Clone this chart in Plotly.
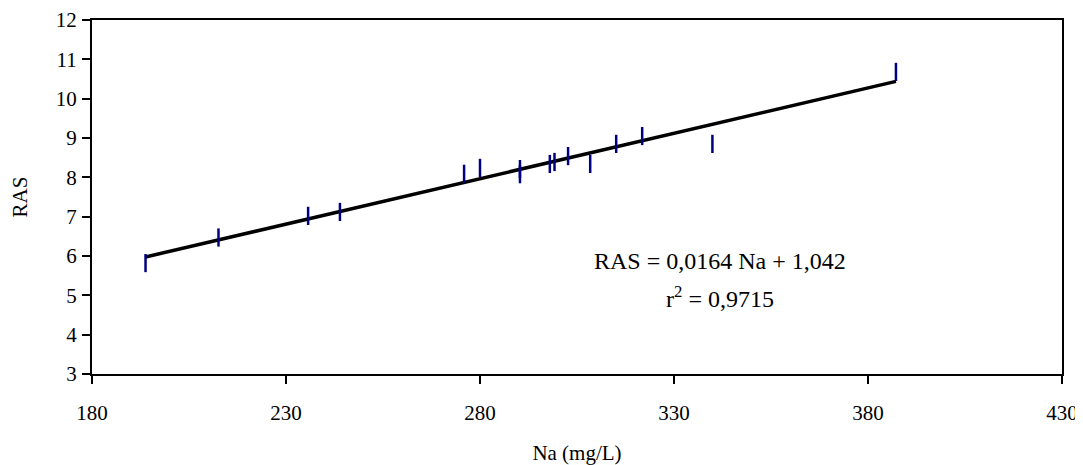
import numpy as np
import plotly.graph_objects as go

# Data
na_values = [193.8, 212.6, 235.7, 243.9, 275.9, 280.0, 290.3, 290.3, 298.0,
             299.2, 302.7, 308.4, 315.1, 321.8, 339.9, 387.2]
ras_values = [5.82, 6.47, 7.02, 7.12, 8.09, 8.24, 8.08, 8.21, 8.34,
              8.39, 8.54, 8.34, 8.85, 9.05, 8.85, 10.68]
x_ticks = [180, 230, 280, 330, 380, 430]
y_ticks = [3, 4, 5, 6, 7, 8, 9, 10, 11, 12]
equation_text = "RAS = 0,0164 Na + 1,042"
r2_text = "r<sup>2</sup> = 0,9715"

x = np.array(na_values)
y = np.array(ras_values)
slope, intercept = np.polyfit(x, y, 1)
fit_x = [x.min(), x.max()]
fit_y = [slope * v + intercept for v in fit_x]

FONT = "Liberation Serif, Times New Roman, serif"

fig = go.Figure()
fig.add_trace(go.Scatter(
    x=fit_x, y=fit_y, mode="lines",
    line=dict(color="black", width=3.5),
    showlegend=False, hoverinfo="skip",
))
fig.add_trace(go.Scatter(
    x=na_values, y=ras_values, mode="markers",
    marker=dict(symbol="line-ns", size=13,
                line=dict(color="#000080", width=2.5)),
    showlegend=False,
))

fig.add_annotation(x=341.9, y=5.87, xref="x", yref="y", text=equation_text,
                   showarrow=False, font=dict(family=FONT, size=24, color="black"),
                   xanchor="center", yanchor="middle")
fig.add_annotation(x=341.9, y=4.95, xref="x", yref="y", text=r2_text,
                   showarrow=False, font=dict(family=FONT, size=24, color="black"),
                   xanchor="center", yanchor="middle")

# page body has an 8px default margin, so the figure is sized to fit the window
fig.update_layout(
    width=1075, height=457,
    margin=dict(l=84, r=21, t=12, b=91),
    paper_bgcolor="white", plot_bgcolor="white",
    font=dict(family=FONT, size=21, color="black"),
)
fig.update_xaxes(
    range=[180, 430], tickvals=x_ticks, ticktext=[str(v) for v in x_ticks],
    showgrid=False, zeroline=False, automargin=False,
    showline=True, linecolor="black", linewidth=2, mirror=True,
    ticks="outside", ticklen=8, tickwidth=2, tickcolor="black",
    ticklabelstandoff=11,
    title=dict(text="Na (mg/L)", standoff=22, font=dict(size=21)),
)
fig.update_yaxes(
    range=[3, 12], tickvals=y_ticks, ticktext=[str(v) for v in y_ticks],
    showgrid=False, zeroline=False, automargin=False,
    showline=True, linecolor="black", linewidth=2, mirror=True,
    ticks="outside", ticklen=8, tickwidth=2, tickcolor="black",
    ticklabelstandoff=1,
    title=dict(text="RAS", standoff=30, font=dict(size=21)),
)

fig.write_html("out.html")
